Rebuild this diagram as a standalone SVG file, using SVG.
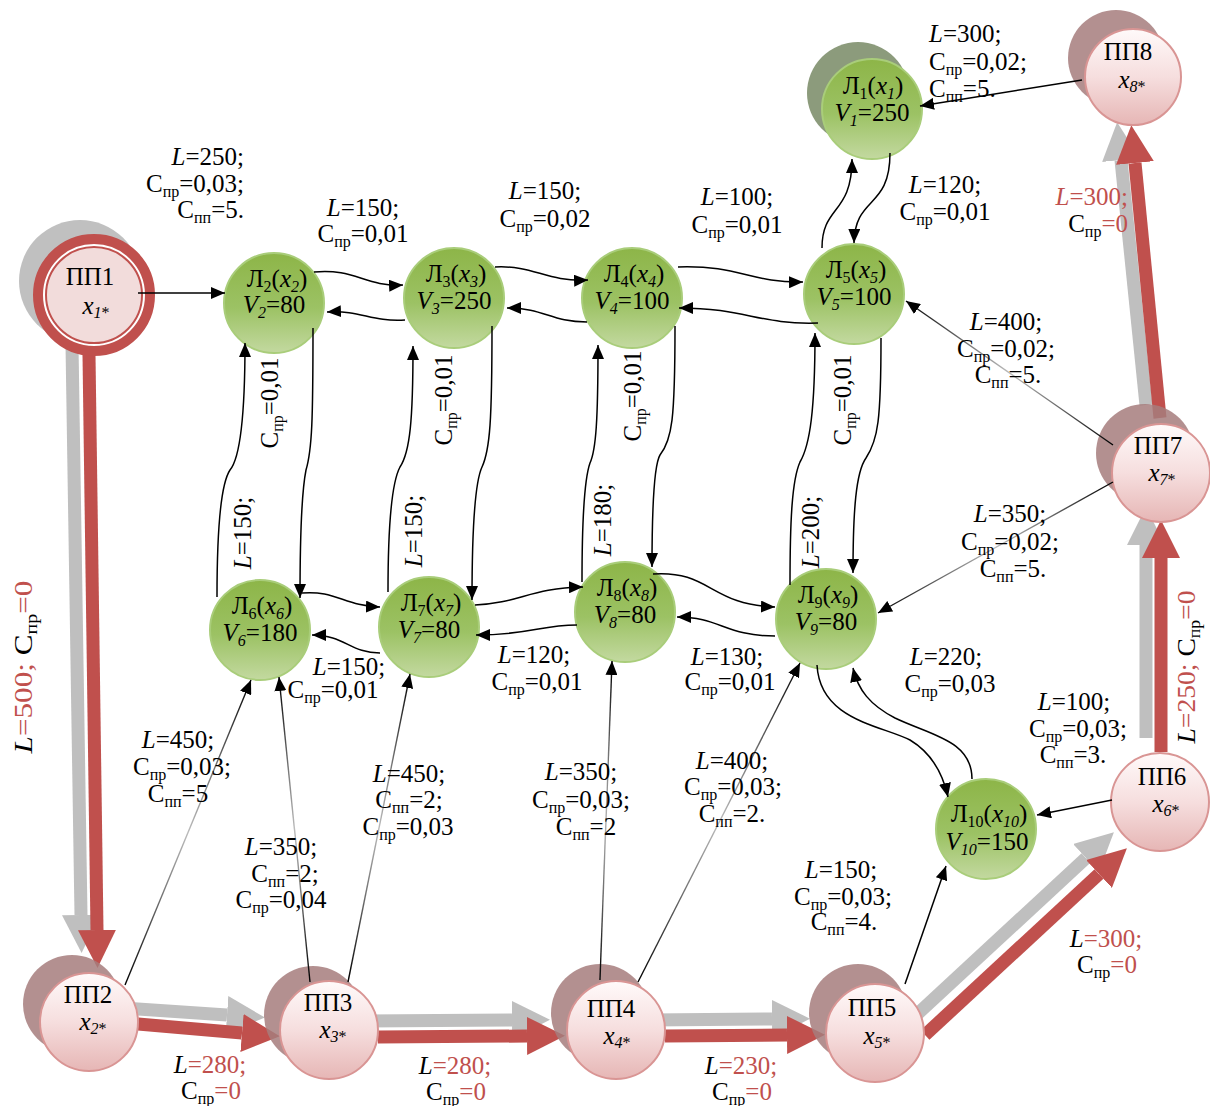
<svg xmlns="http://www.w3.org/2000/svg" width="1210" height="1106" viewBox="0 0 1210 1106">
<style>
.t{font-family:"Liberation Serif","Times New Roman",serif;font-size:25px;fill:#000}
.i{font-style:italic}
.s{font-size:16px}
.r{fill:#c0504d}
.gn{fill:url(#gGreen);stroke:#a9cd7a;stroke-width:2}
.pk{fill:url(#gPink);stroke:#d99594;stroke-width:2}
.sh{fill:#a67c7c;opacity:0.85}
.c{fill:none;stroke:#000;stroke-width:1.5;marker-end:url(#ah)}
.cg{fill:none;stroke:url(#gLine);stroke-width:1.4;marker-end:url(#ah)}
.tr{fill:none;stroke:#c0504d;stroke-width:13;marker-end:url(#hr)}
.tg{fill:none;stroke:#bfbfbf;stroke-width:13;marker-end:url(#hg)}
</style>
<defs>
<linearGradient id="gGreen" x1="0" y1="0" x2="0" y2="1">
<stop offset="0" stop-color="#8db548"/><stop offset="0.55" stop-color="#9cc264"/><stop offset="1" stop-color="#c3d9a0"/>
</linearGradient>
<linearGradient id="gPink" x1="0" y1="0" x2="0" y2="1">
<stop offset="0" stop-color="#fffafa"/><stop offset="0.5" stop-color="#f6dede"/><stop offset="1" stop-color="#e6b6b5"/>
</linearGradient>
<linearGradient id="gLine" x1="0" y1="0" x2="1" y2="0">
<stop offset="0" stop-color="#000"/><stop offset="0.3" stop-color="#777"/><stop offset="0.5" stop-color="#bbb"/><stop offset="0.7" stop-color="#777"/><stop offset="1" stop-color="#000"/>
</linearGradient>
<marker id="ah" viewBox="0 0 14 12" refX="14" refY="6" markerWidth="14" markerHeight="12" markerUnits="userSpaceOnUse" orient="auto"><path d="M0,0 L14,6 L0,12 z" fill="#000"/></marker>
<marker id="hr" viewBox="0 0 38 38" refX="0" refY="19" markerWidth="38" markerHeight="38" markerUnits="userSpaceOnUse" orient="auto"><path d="M0,0 L38,19 L0,38 z" fill="#c0504d"/></marker>
<marker id="hg" viewBox="0 0 38 38" refX="0" refY="19" markerWidth="38" markerHeight="38" markerUnits="userSpaceOnUse" orient="auto"><path d="M0,0 L38,19 L0,38 z" fill="#bfbfbf"/></marker>
</defs>
<rect width="1210" height="1106" fill="#fff"/>

<g id="route">
<path class="tg" d="M72,345 L81,915"/>
<path class="tr" d="M89,355 L97,930"/>
<path class="tg" d="M123,1008 L227,1015"/>
<path class="tr" d="M138,1024 L242,1033"/>
<path class="tg" d="M365,1021 L512,1020"/>
<path class="tr" d="M378,1037 L527,1036"/>
<path class="tg" d="M650,1020 L772,1019"/>
<path class="tr" d="M665,1036 L787,1035"/>
<path class="tg" d="M912,1019 L1086,858"/>
<path class="tr" d="M925,1035 L1099,874"/>
<path class="tg" d="M1146,738 L1146,545"/>
<path class="tr" d="M1161,752 L1161,558"/>
<path class="tg" d="M1146,405 L1121,160"/>
<path class="tr" d="M1160,418 L1135,163"/>
</g>

<g id="PP1">
<circle cx="80" cy="281" r="61" fill="#c0c0c0"/>
<circle cx="94" cy="295" r="56" fill="#fff" stroke="#c0504d" stroke-width="10"/>
<circle cx="94" cy="295" r="48" fill="#f2dcdb" stroke="#c0504d" stroke-width="2"/>
<text class="t" x="90" y="285" text-anchor="middle">ПП1</text>
<text class="t" x="96" y="314" text-anchor="middle"><tspan class="i">x</tspan><tspan class="s i" dy="4">1</tspan><tspan class="s">*</tspan></text>
</g>
<g id="PP2">
<circle class="sh" cx="72" cy="1004" r="49"/>
<circle class="pk" cx="89" cy="1022" r="49"/>
<text class="t" x="88" y="1003" text-anchor="middle">ПП2</text>
<text class="t" x="93" y="1030" text-anchor="middle"><tspan class="i">x</tspan><tspan class="s i" dy="4">2</tspan><tspan class="s">*</tspan></text>
</g>
<g id="PP3">
<circle class="sh" cx="313" cy="1015" r="49"/>
<circle class="pk" cx="329" cy="1030" r="49"/>
<text class="t" x="328" y="1011" text-anchor="middle">ПП3</text>
<text class="t" x="333" y="1038" text-anchor="middle"><tspan class="i">x</tspan><tspan class="s i" dy="4">3</tspan><tspan class="s">*</tspan></text>
</g>
<g id="PP4">
<circle class="sh" cx="600" cy="1013" r="49"/>
<circle class="pk" cx="616" cy="1030" r="49"/>
<text class="t" x="611" y="1017" text-anchor="middle">ПП4</text>
<text class="t" x="617" y="1044" text-anchor="middle"><tspan class="i">x</tspan><tspan class="s i" dy="4">4</tspan><tspan class="s">*</tspan></text>
</g>
<g id="PP5">
<circle class="sh" cx="858" cy="1013" r="49"/>
<circle class="pk" cx="875" cy="1033" r="49"/>
<text class="t" x="872" y="1016" text-anchor="middle">ПП5</text>
<text class="t" x="877" y="1044" text-anchor="middle"><tspan class="i">x</tspan><tspan class="s i" dy="4">5</tspan><tspan class="s">*</tspan></text>
</g>
<g id="PP6">
<circle class="pk" cx="1160" cy="802" r="49"/>
<text class="t" x="1162" y="785" text-anchor="middle">ПП6</text>
<text class="t" x="1166" y="812" text-anchor="middle"><tspan class="i">x</tspan><tspan class="s i" dy="4">6</tspan><tspan class="s">*</tspan></text>
</g>
<g id="PP7">
<circle class="sh" cx="1145" cy="453" r="49"/>
<circle class="pk" cx="1161" cy="473" r="49"/>
<text class="t" x="1158" y="454" text-anchor="middle">ПП7</text>
<text class="t" x="1162" y="481" text-anchor="middle"><tspan class="i">x</tspan><tspan class="s i" dy="4">7</tspan><tspan class="s">*</tspan></text>
</g>
<g id="PP8">
<circle class="sh" cx="1116" cy="58" r="48"/>
<circle class="pk" cx="1133" cy="77" r="48"/>
<text class="t" x="1128" y="60" text-anchor="middle">ПП8</text>
<text class="t" x="1132" y="88" text-anchor="middle"><tspan class="i">x</tspan><tspan class="s i" dy="4">8</tspan><tspan class="s">*</tspan></text>
</g>

<g id="L1">
<circle cx="858" cy="93" r="51" fill="#8c9b7c"/>
<circle class="gn" cx="872" cy="109" r="50"/>
<text class="t" x="873" y="94" text-anchor="middle">Л<tspan class="s" dy="5">1</tspan><tspan dy="-5">(</tspan><tspan class="i">x</tspan><tspan class="s i" dy="5">1</tspan><tspan dy="-5">)</tspan></text>
<text class="t" x="872" y="121" text-anchor="middle"><tspan class="i">V</tspan><tspan class="s i" dy="5">1</tspan><tspan dy="-5">=250</tspan></text>
</g>
<g id="L2">
<circle class="gn" cx="274" cy="303" r="50"/>
<text class="t" x="277" y="287" text-anchor="middle">Л<tspan class="s" dy="5">2</tspan><tspan dy="-5">(</tspan><tspan class="i">x</tspan><tspan class="s i" dy="5">2</tspan><tspan dy="-5">)</tspan></text>
<text class="t" x="274" y="313" text-anchor="middle"><tspan class="i">V</tspan><tspan class="s i" dy="5">2</tspan><tspan dy="-5">=80</tspan></text>
</g>
<g id="L3">
<circle class="gn" cx="454" cy="298" r="50"/>
<text class="t" x="456" y="282" text-anchor="middle">Л<tspan class="s" dy="5">3</tspan><tspan dy="-5">(</tspan><tspan class="i">x</tspan><tspan class="s i" dy="5">3</tspan><tspan dy="-5">)</tspan></text>
<text class="t" x="454" y="309" text-anchor="middle"><tspan class="i">V</tspan><tspan class="s i" dy="5">3</tspan><tspan dy="-5">=250</tspan></text>
</g>
<g id="L4">
<circle class="gn" cx="632" cy="298" r="50"/>
<text class="t" x="634" y="282" text-anchor="middle">Л<tspan class="s" dy="5">4</tspan><tspan dy="-5">(</tspan><tspan class="i">x</tspan><tspan class="s i" dy="5">4</tspan><tspan dy="-5">)</tspan></text>
<text class="t" x="632" y="309" text-anchor="middle"><tspan class="i">V</tspan><tspan class="s i" dy="5">4</tspan><tspan dy="-5">=100</tspan></text>
</g>
<g id="L5">
<circle class="gn" cx="854" cy="294" r="50"/>
<text class="t" x="856" y="278" text-anchor="middle">Л<tspan class="s" dy="5">5</tspan><tspan dy="-5">(</tspan><tspan class="i">x</tspan><tspan class="s i" dy="5">5</tspan><tspan dy="-5">)</tspan></text>
<text class="t" x="854" y="305" text-anchor="middle"><tspan class="i">V</tspan><tspan class="s i" dy="5">5</tspan><tspan dy="-5">=100</tspan></text>
</g>
<g id="L6">
<circle class="gn" cx="260" cy="630" r="50"/>
<text class="t" x="262" y="614" text-anchor="middle">Л<tspan class="s" dy="5">6</tspan><tspan dy="-5">(</tspan><tspan class="i">x</tspan><tspan class="s i" dy="5">6</tspan><tspan dy="-5">)</tspan></text>
<text class="t" x="260" y="641" text-anchor="middle"><tspan class="i">V</tspan><tspan class="s i" dy="5">6</tspan><tspan dy="-5">=180</tspan></text>
</g>
<g id="L7">
<circle class="gn" cx="429" cy="627" r="50"/>
<text class="t" x="431" y="611" text-anchor="middle">Л<tspan class="s" dy="5">7</tspan><tspan dy="-5">(</tspan><tspan class="i">x</tspan><tspan class="s i" dy="5">7</tspan><tspan dy="-5">)</tspan></text>
<text class="t" x="429" y="638" text-anchor="middle"><tspan class="i">V</tspan><tspan class="s i" dy="5">7</tspan><tspan dy="-5">=80</tspan></text>
</g>
<g id="L8">
<circle class="gn" cx="625" cy="612" r="50"/>
<text class="t" x="627" y="596" text-anchor="middle">Л<tspan class="s" dy="5">8</tspan><tspan dy="-5">(</tspan><tspan class="i">x</tspan><tspan class="s i" dy="5">8</tspan><tspan dy="-5">)</tspan></text>
<text class="t" x="625" y="623" text-anchor="middle"><tspan class="i">V</tspan><tspan class="s i" dy="5">8</tspan><tspan dy="-5">=80</tspan></text>
</g>
<g id="L9">
<circle class="gn" cx="826" cy="619" r="50"/>
<text class="t" x="828" y="603" text-anchor="middle">Л<tspan class="s" dy="5">9</tspan><tspan dy="-5">(</tspan><tspan class="i">x</tspan><tspan class="s i" dy="5">9</tspan><tspan dy="-5">)</tspan></text>
<text class="t" x="826" y="630" text-anchor="middle"><tspan class="i">V</tspan><tspan class="s i" dy="5">9</tspan><tspan dy="-5">=80</tspan></text>
</g>
<g id="L10">
<circle class="gn" cx="986" cy="829" r="50"/>
<text class="t" x="989" y="822" text-anchor="middle">Л<tspan class="s" dy="5">10</tspan><tspan dy="-5">(</tspan><tspan class="i">x</tspan><tspan class="s i" dy="5">10</tspan><tspan dy="-5">)</tspan></text>
<text class="t" x="987" y="850" text-anchor="middle"><tspan class="i">V</tspan><tspan class="s i" dy="5">10</tspan><tspan dy="-5">=150</tspan></text>
</g>

<g id="connectors">
<path class="c" d="M138,293 L225,293"/>
<path class="c" d="M314,272 C355,268 365,287 403,285"/>
<path class="c" d="M405,320 C370,322 362,310 327,312"/>
<path class="c" d="M495,267 C535,265 545,282 588,280"/>
<path class="c" d="M587,322 C550,322 545,308 507,308"/>
<path class="c" d="M678,267 C740,265 750,283 803,282"/>
<path class="c" d="M818,323 C760,325 745,308 679,308"/>
<path class="c" d="M822,248 C822,205 852,215 852,159"/>
<path class="c" d="M890,153 C890,210 855,195 854,243"/>
<path class="c" d="M1082,80 L920,106"/>
<path class="cg" d="M1113,445 L906,301"/>
<path class="cg" d="M1113,482 L878,613"/>
<path class="c" d="M217,597 C217,520 222,482 230,470 C240,458 245,420 245,343"/>
<path class="c" d="M313,328 C313,420 312,450 306,470 C302,490 300,540 300,598"/>
<path class="c" d="M388,592 C388,520 393,480 400,467 C410,452 413,420 413,346"/>
<path class="c" d="M492,326 C492,420 490,450 482,467 C475,482 472,530 472,600"/>
<path class="c" d="M582,582 C582,520 584,480 590,463 C596,450 598,420 598,345"/>
<path class="c" d="M675,326 C675,420 672,440 660,455 C654,465 652,510 652,567"/>
<path class="c" d="M790,585 C790,520 792,480 800,462 C810,445 815,410 815,333"/>
<path class="c" d="M881,338 C881,420 878,440 866,458 C856,472 853,510 853,573"/>
<path class="c" d="M302,593 C335,590 345,606 380,607"/>
<path class="c" d="M380,653 C350,653 345,635 312,635"/>
<path class="c" d="M475,605 C520,603 530,588 583,587"/>
<path class="c" d="M577,625 C540,625 530,635 476,635"/>
<path class="c" d="M653,574 C710,570 710,605 775,607"/>
<path class="c" d="M775,636 C725,636 720,617 677,617"/>
<path class="c" d="M817,665 C820,720 880,725 910,740 C930,752 942,770 948,797"/>
<path class="c" d="M972,779 C972,740 930,735 895,718 C870,705 858,690 853,668"/>
<path class="c" d="M1112,800 L1037,815"/>
<path class="c" d="M905,984 L946,866"/>
<path class="cg" d="M125,985 L251,680"/>
<path class="cg" d="M310,982 L279,677"/>
<path class="cg" d="M348,982 L410,674"/>
<path class="cg" d="M600,980 L612,661"/>
<path class="cg" d="M638,982 L800,663"/>
</g>

<g id="labels" class="t">
<text text-anchor="end" x="244" y="165"><tspan class="i">L</tspan>=250;</text>
<text text-anchor="end" x="244" y="192">С<tspan class="s" dy="5">пр</tspan><tspan dy="-5">=0,03;</tspan></text>
<text text-anchor="end" x="244" y="218">С<tspan class="s" dy="5">пп</tspan><tspan dy="-5">=5.</tspan></text>

<text text-anchor="middle" x="363" y="216"><tspan class="i">L</tspan>=150;</text>
<text text-anchor="middle" x="363" y="242">С<tspan class="s" dy="5">пр</tspan><tspan dy="-5">=0,01</tspan></text>

<text text-anchor="middle" x="545" y="199"><tspan class="i">L</tspan>=150;</text>
<text text-anchor="middle" x="545" y="227">С<tspan class="s" dy="5">пр</tspan><tspan dy="-5">=0,02</tspan></text>

<text text-anchor="middle" x="737" y="205"><tspan class="i">L</tspan>=100;</text>
<text text-anchor="middle" x="737" y="233">С<tspan class="s" dy="5">пр</tspan><tspan dy="-5">=0,01</tspan></text>

<text x="929" y="42"><tspan class="i">L</tspan>=300;</text>
<text x="929" y="70">С<tspan class="s" dy="5">пр</tspan><tspan dy="-5">=0,02;</tspan></text>
<text x="929" y="97">С<tspan class="s" dy="5">пп</tspan><tspan dy="-5">=5.</tspan></text>

<text text-anchor="middle" x="945" y="193"><tspan class="i">L</tspan>=120;</text>
<text text-anchor="middle" x="945" y="220">С<tspan class="s" dy="5">пр</tspan><tspan dy="-5">=0,01</tspan></text>

<text text-anchor="end" x="1128" y="205"><tspan class="i r">L</tspan><tspan class="r">=300;</tspan></text>
<text text-anchor="end" x="1128" y="232">С<tspan class="s" dy="5">пр</tspan><tspan class="r" dy="-5">=0</tspan></text>

<text text-anchor="middle" x="1006" y="330"><tspan class="i">L</tspan>=400;</text>
<text text-anchor="middle" x="1006" y="357">С<tspan class="s" dy="5">пр</tspan><tspan dy="-5">=0,02;</tspan></text>
<text text-anchor="middle" x="1008" y="383">С<tspan class="s" dy="5">пп</tspan><tspan dy="-5">=5.</tspan></text>

<text text-anchor="middle" x="1010" y="522"><tspan class="i">L</tspan>=350;</text>
<text text-anchor="middle" x="1010" y="550">С<tspan class="s" dy="5">пр</tspan><tspan dy="-5">=0,02;</tspan></text>
<text text-anchor="middle" x="1013" y="577">С<tspan class="s" dy="5">пп</tspan><tspan dy="-5">=5.</tspan></text>

<text text-anchor="middle" x="946" y="665"><tspan class="i">L</tspan>=220;</text>
<text text-anchor="middle" x="950" y="692">С<tspan class="s" dy="5">пр</tspan><tspan dy="-5">=0,03</tspan></text>

<text text-anchor="middle" x="1074" y="710"><tspan class="i">L</tspan>=100;</text>
<text text-anchor="middle" x="1078" y="737">С<tspan class="s" dy="5">пр</tspan><tspan dy="-5">=0,03;</tspan></text>
<text text-anchor="middle" x="1073" y="763">С<tspan class="s" dy="5">пп</tspan><tspan dy="-5">=3.</tspan></text>

<text transform="translate(1195,667) rotate(-90)" text-anchor="middle" textLength="153" lengthAdjust="spacingAndGlyphs"><tspan class="i">L</tspan><tspan class="r">=250;</tspan> С<tspan class="s" dy="5">пр</tspan><tspan class="r" dy="-5">=0</tspan></text>
<text transform="translate(32,667) rotate(-90)" text-anchor="middle" textLength="173" lengthAdjust="spacingAndGlyphs"><tspan class="i">L</tspan><tspan class="r">=500;</tspan> С<tspan class="s" dy="5">пр</tspan><tspan class="r" dy="-5">=0</tspan></text>

<text transform="translate(251,533) rotate(-90)" text-anchor="middle"><tspan class="i">L</tspan>=150;</text>
<text transform="translate(278,403) rotate(-90)" text-anchor="middle">С<tspan class="s" dy="5">пр</tspan><tspan dy="-5">=0,01</tspan></text>
<text transform="translate(422,531) rotate(-90)" text-anchor="middle"><tspan class="i">L</tspan>=150;</text>
<text transform="translate(452,400) rotate(-90)" text-anchor="middle">С<tspan class="s" dy="5">пр</tspan><tspan dy="-5">=0,01</tspan></text>
<text transform="translate(611,520) rotate(-90)" text-anchor="middle"><tspan class="i">L</tspan>=180;</text>
<text transform="translate(641,396) rotate(-90)" text-anchor="middle">С<tspan class="s" dy="5">пр</tspan><tspan dy="-5">=0,01</tspan></text>
<text transform="translate(819,532) rotate(-90)" text-anchor="middle"><tspan class="i">L</tspan>=200;</text>
<text transform="translate(851,400) rotate(-90)" text-anchor="middle">С<tspan class="s" dy="5">пр</tspan><tspan dy="-5">=0,01</tspan></text>

<text text-anchor="middle" x="349" y="675"><tspan class="i">L</tspan>=150;</text>
<text text-anchor="middle" x="333" y="698">С<tspan class="s" dy="5">пр</tspan><tspan dy="-5">=0,01</tspan></text>

<text text-anchor="middle" x="534" y="663"><tspan class="i">L</tspan>=120;</text>
<text text-anchor="middle" x="537" y="690">С<tspan class="s" dy="5">пр</tspan><tspan dy="-5">=0,01</tspan></text>

<text text-anchor="middle" x="727" y="665"><tspan class="i">L</tspan>=130;</text>
<text text-anchor="middle" x="730" y="690">С<tspan class="s" dy="5">пр</tspan><tspan dy="-5">=0,01</tspan></text>

<text text-anchor="middle" x="178" y="748"><tspan class="i">L</tspan>=450;</text>
<text text-anchor="middle" x="182" y="775">С<tspan class="s" dy="5">пр</tspan><tspan dy="-5">=0,03;</tspan></text>
<text text-anchor="middle" x="178" y="802">С<tspan class="s" dy="5">пп</tspan><tspan dy="-5">=5</tspan></text>

<text text-anchor="middle" x="281" y="855"><tspan class="i">L</tspan>=350;</text>
<text text-anchor="middle" x="285" y="882">С<tspan class="s" dy="5">пп</tspan><tspan dy="-5">=2;</tspan></text>
<text text-anchor="middle" x="281" y="908">С<tspan class="s" dy="5">пр</tspan><tspan dy="-5">=0,04</tspan></text>

<text text-anchor="middle" x="409" y="782"><tspan class="i">L</tspan>=450;</text>
<text text-anchor="middle" x="409" y="808">С<tspan class="s" dy="5">пп</tspan><tspan dy="-5">=2;</tspan></text>
<text text-anchor="middle" x="408" y="835">С<tspan class="s" dy="5">пр</tspan><tspan dy="-5">=0,03</tspan></text>

<text text-anchor="middle" x="581" y="780"><tspan class="i">L</tspan>=350;</text>
<text text-anchor="middle" x="581" y="808">С<tspan class="s" dy="5">пр</tspan><tspan dy="-5">=0,03;</tspan></text>
<text text-anchor="middle" x="586" y="835">С<tspan class="s" dy="5">пп</tspan><tspan dy="-5">=2</tspan></text>

<text text-anchor="middle" x="732" y="769"><tspan class="i">L</tspan>=400;</text>
<text text-anchor="middle" x="733" y="795">С<tspan class="s" dy="5">пр</tspan><tspan dy="-5">=0,03;</tspan></text>
<text text-anchor="middle" x="732" y="822">С<tspan class="s" dy="5">пп</tspan><tspan dy="-5">=2.</tspan></text>

<text text-anchor="middle" x="841" y="878"><tspan class="i">L</tspan>=150;</text>
<text text-anchor="middle" x="843" y="905">С<tspan class="s" dy="5">пр</tspan><tspan dy="-5">=0,03;</tspan></text>
<text text-anchor="middle" x="844" y="930">С<tspan class="s" dy="5">пп</tspan><tspan dy="-5">=4.</tspan></text>

<text text-anchor="middle" x="1106" y="947"><tspan class="i">L</tspan><tspan class="r">=300;</tspan></text>
<text text-anchor="middle" x="1107" y="973">С<tspan class="s" dy="5">пр</tspan><tspan class="r" dy="-5">=0</tspan></text>

<text text-anchor="middle" x="210" y="1073"><tspan class="i">L</tspan><tspan class="r">=280;</tspan></text>
<text text-anchor="middle" x="211" y="1099">С<tspan class="s" dy="5">пр</tspan><tspan class="r" dy="-5">=0</tspan></text>

<text text-anchor="middle" x="455" y="1074"><tspan class="i">L</tspan><tspan class="r">=280;</tspan></text>
<text text-anchor="middle" x="456" y="1100">С<tspan class="s" dy="5">пр</tspan><tspan class="r" dy="-5">=0</tspan></text>

<text text-anchor="middle" x="741" y="1074"><tspan class="i">L</tspan><tspan class="r">=230;</tspan></text>
<text text-anchor="middle" x="742" y="1100">С<tspan class="s" dy="5">пр</tspan><tspan class="r" dy="-5">=0</tspan></text>
</g>
</svg>
